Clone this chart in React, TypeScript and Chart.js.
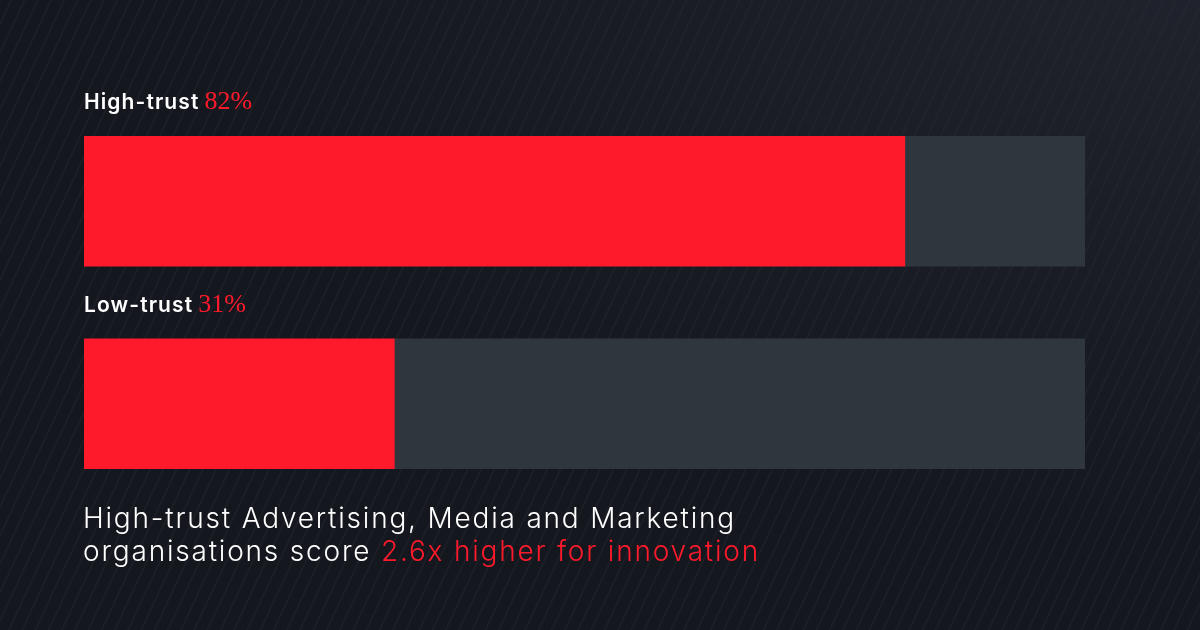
import React, { useEffect, useRef } from 'react';
import Chart from 'chart.js/auto';

// segments of the trust comparison
const categories = ['High-trust', 'Low-trust'];
const innovationShare = [82, 31];
const remainderShare = [18, 69];
const percentLabels = ['82%', '31%'];
const captionWhite = ['High-trust Advertising, Media and Marketing', 'organisations score '];
const captionRed = '2.6x higher for innovation';

const RED = '#ff1a2b';
const TRACK = '#30363e';

const labelPlugin = {
  id: 'barLabels',
  afterDatasetsDraw(chart: any) {
    const { ctx, chartArea } = chart;
    const meta = chart.getDatasetMeta(0);
    ctx.save();
    meta.data.forEach((bar: any, i: number) => {
      const top = bar.y - bar.height / 2;
      const y = top - 27;
      const x = chartArea.left;
      ctx.textBaseline = 'alphabetic';
      ctx.font = '600 21px Inter';
      ctx.letterSpacing = '1.1px';
      ctx.fillStyle = '#ffffff';
      ctx.fillText(categories[i], x, y);
      const w = ctx.measureText(categories[i]).width + 5;
      ctx.letterSpacing = '0px';
      ctx.font = '26px "Liberation Serif"';
      ctx.fillStyle = RED;
      ctx.fillText(percentLabels[i], x + w, y);
    });
    ctx.restore();
  },
};

const App: React.FC = () => {
  const canvasRef = useRef<HTMLCanvasElement>(null);
  const chartRef = useRef<Chart | null>(null);

  useEffect(() => {
    const ctx = canvasRef.current?.getContext('2d');
    if (!ctx) return;
    chartRef.current = new Chart(ctx, {
      type: 'bar',
      data: {
        labels: categories,
        datasets: [
          { data: innovationShare, backgroundColor: RED, barThickness: 130, borderWidth: 0 },
          { data: remainderShare, backgroundColor: TRACK, barThickness: 130, borderWidth: 0 },
        ],
      },
      options: {
        indexAxis: 'y',
        animation: false,
        responsive: false,
        maintainAspectRatio: false,
        layout: { padding: { left: 84, right: 115, top: 100, bottom: 125 } },
        plugins: { legend: { display: false }, tooltip: { enabled: false } },
        scales: {
          x: { stacked: true, min: 0, max: 100, display: false },
          y: { stacked: true, display: false },
        },
      },
      plugins: [labelPlugin],
    });
    return () => {
      chartRef.current?.destroy();
      chartRef.current = null;
    };
  }, []);

  return (
    <div
      style={{
        position: 'fixed',
        left: 0,
        top: 0,
        width: 1200,
        height: 630,
        overflow: 'hidden',
        backgroundColor: '#15171f',
        backgroundImage:
          'radial-gradient(ellipse at 100% 0%, rgba(40,44,54,0.55) 0%, rgba(21,23,31,0) 60%), repeating-linear-gradient(115deg, rgba(255,255,255,0) 0px, rgba(255,255,255,0) 9px, rgba(255,255,255,0.04) 10px, rgba(255,255,255,0) 12px)',
      }}
    >
      <canvas ref={canvasRef} width={1200} height={630} style={{ position: 'absolute', left: 0, top: 0 }} />
      <div
        style={{
          position: 'absolute',
          left: 83,
          top: 502,
          fontFamily: 'Inter',
          fontWeight: 300,
          fontSize: 28,
          letterSpacing: '1.8px',
          lineHeight: '33px',
          color: '#ffffff',
          whiteSpace: 'nowrap',
        }}
      >
        {captionWhite[0]}
        <br />
        {captionWhite[1]}
        <span style={{ color: RED }}>{captionRed}</span>
      </div>
    </div>
  );
};

export default App;
